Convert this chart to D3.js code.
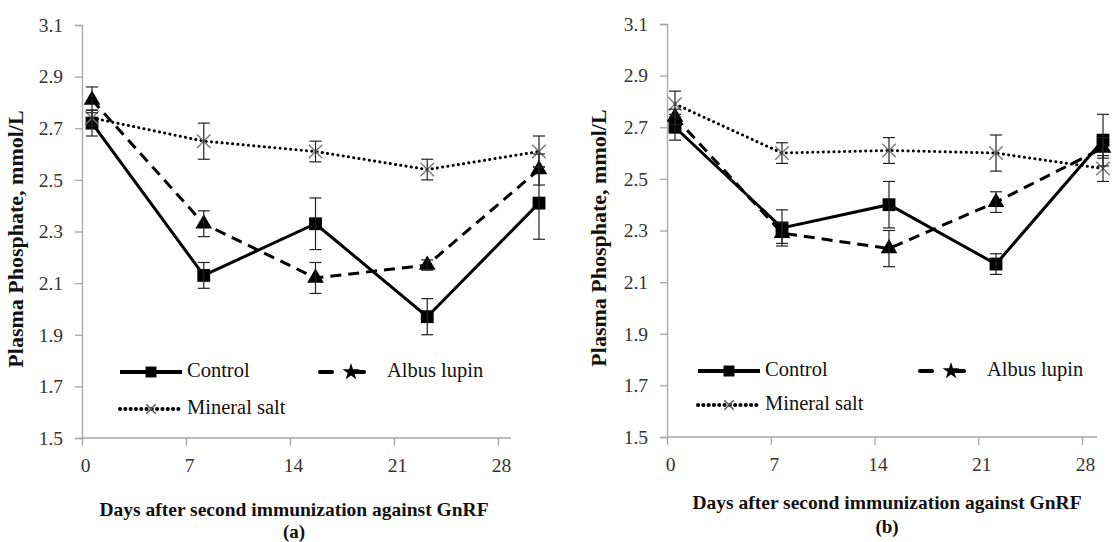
<!DOCTYPE html>
<html>
<head>
<meta charset="utf-8">
<script src="https://cdn.jsdelivr.net/npm/d3@7"></script>
<style>
  body { margin: 0; background: #fff; }
  text { font-family: "Liberation Serif", "Times New Roman", serif; }
</style>
</head>
<body>
<div class="chart"></div>
<script>
// days after immunization and y ticks
const days = [0, 7, 14, 21, 28];
const yTickValues = [1.5, 1.7, 1.9, 2.1, 2.3, 2.5, 2.7, 2.9, 3.1];
const seriesNames = ["Control", "Albus lupin", "Mineral salt"];

// panel (a)
const controlA = [2.72, 2.13, 2.33, 1.97, 2.41];
const controlAErr = [0.05, 0.05, 0.10, 0.07, 0.14];
const lupinA = [2.81, 2.33, 2.12, 2.17, 2.54];
const lupinAErr = [0.05, 0.05, 0.06, 0.02, 0.06];
const mineralA = [2.74, 2.65, 2.61, 2.54, 2.61];
const mineralAErr = [0.03, 0.07, 0.04, 0.04, 0.06];

// panel (b)
const controlB = [2.70, 2.31, 2.40, 2.17, 2.65];
const controlBErr = [0.05, 0.07, 0.09, 0.04, 0.10];
const lupinB = [2.74, 2.29, 2.23, 2.41, 2.62];
const lupinBErr = [0.03, 0.04, 0.07, 0.04, 0.04];
const mineralB = [2.79, 2.60, 2.61, 2.60, 2.54];
const mineralBErr = [0.05, 0.04, 0.05, 0.07, 0.05];

const styles = [
  {dash: null, width: 3, symbol: d3.symbolSquare, size: 165, fill: "#000", stroke: "none", legendSymbol: d3.symbolSquare, legendSize: 120},
  {dash: "11,7", width: 3, symbol: d3.symbolTriangle, size: 120, fill: "#000", stroke: "none", legendSymbol: d3.symbolStar, legendSize: 90},
  {dash: "0.1,5.2", width: 3, symbol: d3.symbolX, size: 120, fill: "none", stroke: "#777", legendSymbol: d3.symbolX, legendSize: 60}
];

const panels = [
  {label: "(a)", yAxisX: 82, axisEnd: 511, tickRange: [82, 498], dataRange: [92, 539], yRange: [438, 25],
   values: [controlA, lupinA, mineralA], errors: [controlAErr, lupinAErr, mineralAErr],
   yLabelX: 18, yLabelY: 239, xTitleX: 294, xTitleY: 516, subY: 538,
   legend: [[120, 372], [320, 372], [120, 409]]},
  {label: "(b)", yAxisX: 667, axisEnd: 1097, tickRange: [667, 1082], dataRange: [675, 1103], yRange: [437, 24],
   values: [controlB, lupinB, mineralB], errors: [controlBErr, lupinBErr, mineralBErr],
   yLabelX: 601, yLabelY: 238, xTitleX: 887, xTitleY: 509, subY: 533,
   legend: [[698, 371], [920, 371], [698, 405]]}
];

const svg = d3.select(".chart").append("svg")
    .attr("width", 1116)
    .attr("height", 542);

svg.append("rect").attr("width", 1116).attr("height", 542).attr("fill", "#fff");

panels.forEach(p => {
  const g = svg.append("g");

  const y = d3.scaleLinear().domain([1.5, 3.1]).range(p.yRange);
  const xTicks = d3.scalePoint().domain(days).range(p.tickRange);
  const x = d3.scaleLinear().domain([0, 28]).range(p.dataRange);

  // y axis
  const yAxis = d3.axisLeft(y)
      .tickValues(yTickValues)
      .tickFormat(d3.format(".1f"))
      .tickSizeOuter(0)
      .tickSize(7)
      .tickPadding(12);

  const ya = g.append("g")
      .attr("class", "axis y-axis")
      .attr("transform", `translate(${p.yAxisX},0)`)
      .call(yAxis);
  ya.attr("font-family", null).attr("font-size", null);
  ya.select(".domain").attr("stroke", "#a6a6a6").attr("stroke-width", 1.3);
  ya.selectAll(".tick line").attr("stroke", "#a6a6a6").attr("stroke-width", 1.3);
  ya.selectAll(".tick text").attr("fill", "#333").style("font-size", "19.5px");

  // x axis
  const xAxis = d3.axisBottom(xTicks)
      .tickSizeOuter(0)
      .tickSize(8)
      .tickPadding(12);

  const xa = g.append("g")
      .attr("class", "axis x-axis")
      .attr("transform", `translate(0,${p.yRange[0]})`)
      .call(xAxis);
  xa.attr("font-family", null).attr("font-size", null);
  xa.select(".domain").remove();
  xa.selectAll(".tick text").attr("fill", "#333").attr("dx", 3).style("font-size", "19.5px");
  xa.selectAll(".tick line").attr("stroke", "#a6a6a6").attr("stroke-width", 1.3);
  xa.append("line")
      .attr("x1", p.yAxisX).attr("x2", p.axisEnd)
      .attr("y1", 0).attr("y2", 0)
      .attr("stroke", "#a6a6a6").attr("stroke-width", 1.3);

  // axis titles
  g.append("text")
      .attr("transform", `translate(${p.yLabelX},${p.yLabelY}) rotate(-90)`)
      .attr("text-anchor", "middle")
      .attr("dominant-baseline", "middle")
      .style("font-size", "22px")
      .style("font-weight", "bold")
      .attr("fill", "#111")
      .text("Plasma Phosphate, mmol/L");

  g.append("text")
      .attr("x", p.xTitleX).attr("y", p.xTitleY)
      .attr("text-anchor", "middle")
      .style("font-size", "19.5px")
      .style("font-weight", "bold")
      .attr("fill", "#111")
      .text("Days after second immunization against GnRF");

  g.append("text")
      .attr("x", p.xTitleX).attr("y", p.subY)
      .attr("text-anchor", "middle")
      .style("font-size", "19px")
      .style("font-weight", "bold")
      .attr("fill", "#111")
      .text(p.label);

  const line = d3.line().x((d, i) => x(days[i])).y(d => y(d));

  // lines
  p.values.forEach((vals, s) => {
    g.append("path")
        .datum(vals)
        .attr("fill", "none")
        .attr("stroke", "#000")
        .attr("stroke-width", styles[s].width)
        .attr("stroke-dasharray", styles[s].dash)
        .attr("stroke-linecap", s == 2 ? "round" : "butt")
        .attr("d", line);
  });

  // markers
  p.values.forEach((vals, s) => {
    g.selectAll(null)
        .data(vals)
        .enter()
        .append("path")
        .attr("transform", (d, i) => `translate(${x(days[i])},${y(d)})`)
        .attr("d", d3.symbol().type(styles[s].symbol).size(styles[s].size))
        .attr("fill", styles[s].fill)
        .attr("stroke", styles[s].stroke)
        .attr("stroke-width", 1.4);
  });

  // error bars
  p.values.forEach((vals, s) => {
    const errs = p.errors[s];
    const eb = g.selectAll(null)
        .data(vals)
        .enter()
        .append("g")
        .attr("transform", (d, i) => `translate(${x(days[i])},0)`);
    eb.append("line")
        .attr("y1", (d, i) => y(d - errs[i]))
        .attr("y2", (d, i) => y(d + errs[i]))
        .attr("stroke", "#222").attr("stroke-width", 1.2);
    eb.append("line")
        .attr("x1", -6).attr("x2", 6)
        .attr("y1", (d, i) => y(d - errs[i]))
        .attr("y2", (d, i) => y(d - errs[i]))
        .attr("stroke", "#222").attr("stroke-width", 1.2);
    eb.append("line")
        .attr("x1", -6).attr("x2", 6)
        .attr("y1", (d, i) => y(d + errs[i]))
        .attr("y2", (d, i) => y(d + errs[i]))
        .attr("stroke", "#222").attr("stroke-width", 1.2);
  });

  // legend
  seriesNames.forEach((name, s) => {
    const [lx, ly] = p.legend[s];
    const lg = g.append("g").attr("transform", `translate(${lx},${ly})`);
    lg.append("line")
        .attr("x1", 0).attr("x2", 62)
        .attr("stroke", "#000")
        .attr("stroke-width", styles[s].width + 1)
        .attr("stroke-dasharray", s == 1 ? "12,20" : styles[s].dash)
        .attr("stroke-linecap", s == 0 ? "butt" : "round");
    lg.append("path")
        .attr("transform", "translate(31,0)")
        .attr("d", d3.symbol().type(styles[s].legendSymbol).size(styles[s].legendSize))
        .attr("fill", styles[s].fill)
        .attr("stroke", s == 2 ? "#555" : "none")
        .attr("stroke-width", 1.4);
    lg.append("text")
        .attr("x", 67)
        .attr("dominant-baseline", "middle")
        .style("font-size", "20.5px")
        .attr("fill", "#111")
        .text(name);
  });
});
</script>
</body>
</html>
